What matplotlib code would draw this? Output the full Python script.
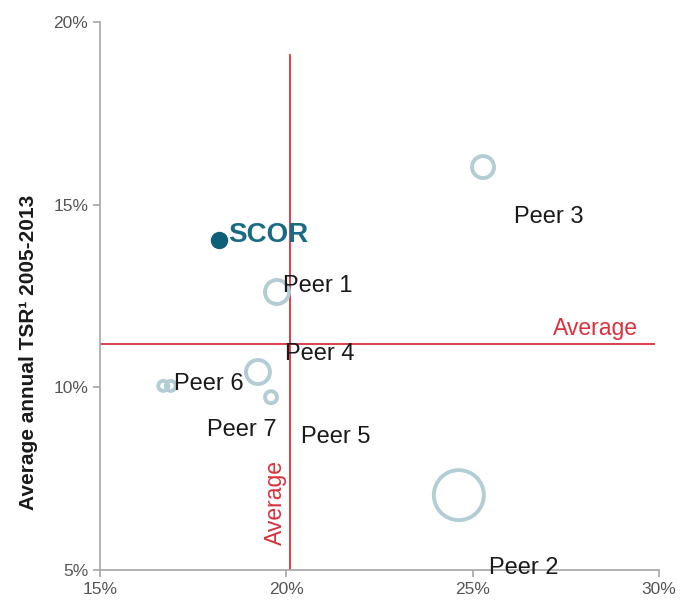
import numpy as np
import matplotlib.pyplot as plt
from matplotlib.ticker import FuncFormatter

plt.rcParams['font.family'] = ['Liberation Sans', 'DejaVu Sans']

# bubbles (x = volatility-ish %, y = TSR %), size = bubble radius in px
peers = ["Peer 1", "Peer 2", "Peer 3", "Peer 4", "Peer 5", "Peer 6", "Peer 7"]
peer_x = [19.75, 24.63, 25.28, 19.24, 19.59, 16.70, 16.90]
peer_y = [12.61, 7.05, 16.03, 10.42, 9.73, 10.04, 10.04]
peer_r = [12, 25, 11, 12, 6, 5, 5]

scor_x, scor_y, scor_r = 18.19, 14.03, 8

# label anchors (left edge, vertical centre)
label_x = [19.91, 25.44, 26.11, 19.96, 20.39, 16.99, 17.87]
label_y = [12.77, 5.05, 14.66, 10.91, 8.64, 10.09, 8.83]
scor_lx, scor_ly = 18.43, 14.17

avg_x = 20.10
avg_y = 11.19

def s_from_r(r):
    return (2 * r * 0.72) ** 2

fig = plt.figure(figsize=(6.8, 6.03), dpi=100)
ax = fig.add_axes([0.147, 0.0547, 0.822, 0.9088])

ax.scatter(peer_x, peer_y, s=[s_from_r(r) for r in peer_r], facecolors="none",
           edgecolors="#b3cdd5", linewidths=2.8, zorder=3)
ax.scatter([scor_x], [scor_y], s=s_from_r(scor_r), color="#0e5f78", zorder=4)

for name, lx, ly in zip(peers, label_x, label_y):
    ax.text(lx, ly, name, fontsize=17, color="#1a1a1a", va="center", ha="left", zorder=5)
ax.text(scor_lx, scor_ly, "SCOR", fontsize=20, fontweight="bold", color="#1a6a85",
        va="center", ha="left", zorder=5)

# average lines
ax.plot([15, 29.87], [avg_y, avg_y], color="#d8323c", lw=1.3, zorder=2)
ax.plot([avg_x, avg_x], [5, 19.1], color="#d8323c", lw=1.3, zorder=2)
ax.text(27.15, 11.62, "Average", fontsize=16.5, color="#d8323c", va="center", ha="left")
ax.text(19.72, 6.86, "Average", fontsize=16.5, color="#d8323c", va="center", ha="center",
        rotation=90)

ax.set_xlim(15, 30)
ax.set_ylim(5, 20)
ax.set_xticks([15, 20, 25, 30])
ax.set_yticks([5, 10, 15, 20])
pct = FuncFormatter(lambda v, p: f"{v:.0f}%")
ax.xaxis.set_major_formatter(pct)
ax.yaxis.set_major_formatter(pct)
for sp in ["top", "right"]:
    ax.spines[sp].set_visible(False)
for sp in ["left", "bottom"]:
    ax.spines[sp].set_color("#a6a6a6")
    ax.spines[sp].set_linewidth(1.2)
ax.tick_params(colors="#a6a6a6", labelcolor="#555555", labelsize=12.5, length=5, width=1.2)
ax.set_ylabel("Average annual TSR\u00b9 2005-2013", fontsize=15, fontweight="bold",
              color="#1a1a1a")
ax.yaxis.set_label_coords(-0.11, 0.398)

fig.savefig("out.png", dpi=100)
